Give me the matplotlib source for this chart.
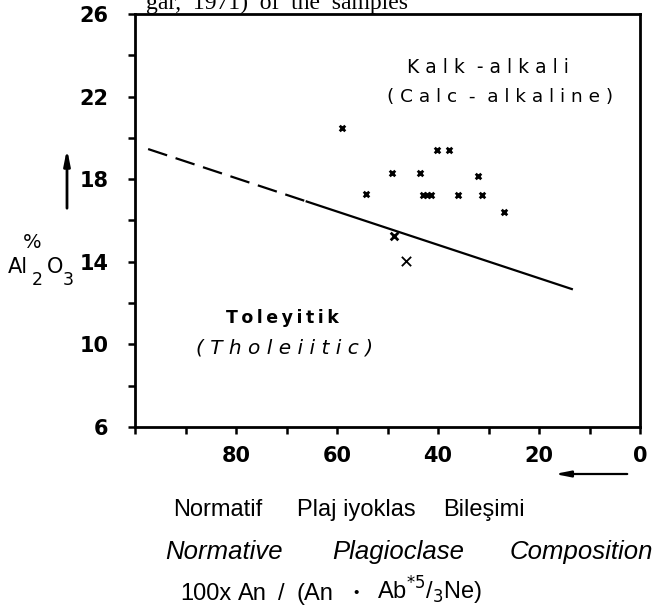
"""
Al2O3 - normatif plajiyoklas bileşimi diyagramı (Irvine & Baragar, 1971)
"""

import matplotlib.pyplot as plt
from matplotlib.ticker import MultipleLocator

# Örnekler: normatif plajiyoklas (An) ve % Al2O3
an_small = [59.1, 40.1, 37.8, 49.2, 43.6, 32.1, 54.3, 43.0, 42.2, 41.4, 36.0, 31.3, 26.9]
al_small = [20.5, 19.4, 19.4, 18.3, 18.3, 18.15, 17.3, 17.25, 17.25, 17.25, 17.25, 17.25, 16.4]
an_mid = [48.7]
al_mid = [15.25]
an_big = [46.4]
al_big = [14.05]

# Ayırım çizgisi (kesikli + düz kısım)
line_dash_x = [97.4, 66.0]
line_dash_y = [19.46, 16.92]
line_solid_x = [66.0, 13.5]
line_solid_y = [16.92, 12.68]

x_ticks = [80, 60, 40, 20, 0]
y_ticks = [6, 10, 14, 18, 22, 26]

fig = plt.figure(figsize=(6.54, 6.12), dpi=100)
ax = fig.add_axes([135 / 654, 1 - 427 / 612, 505 / 654, 413 / 612])

ax.plot(line_dash_x, line_dash_y, color='black', lw=1.6, dashes=(9, 4))
ax.plot(line_solid_x, line_solid_y, color='black', lw=1.6)

ax.scatter(an_small, al_small, marker='x', s=16, color='black', linewidths=2)
ax.scatter(an_mid, al_mid, marker='x', s=30, color='black', linewidths=2)
ax.scatter(an_big, al_big, marker='x', s=45, color='black', linewidths=1.3)

ax.set_xlim(100, 0)
ax.set_ylim(6, 26)
ax.set_xticks(x_ticks)
ax.set_yticks(y_ticks)
ax.xaxis.set_minor_locator(MultipleLocator(10))
ax.yaxis.set_minor_locator(MultipleLocator(2))
ax.tick_params(which='both', direction='out', length=5, width=1.8, colors='black')
ax.tick_params(axis='y', labelsize=15, pad=14)
ax.tick_params(axis='x', labelsize=15, pad=9)
for lab in ax.get_xticklabels() + ax.get_yticklabels():
    lab.set_fontweight('bold')
for sp in ax.spines.values():
    sp.set_linewidth(2)

# Bölge isimleri
ax.text(0.699, 0.87, 'K a l k  - a l k a l i', transform=ax.transAxes,
        ha='center', va='center', fontsize=13.5)
ax.text(0.722, 0.80, '( C a l c  -  a l k a l i n e )', transform=ax.transAxes,
        ha='center', va='center', fontsize=13.3)
ax.text(0.292, 0.264, '\u2009'.join('Toleyitik'), transform=ax.transAxes,
        ha='center', va='center', fontsize=12.5, fontweight='bold')
ax.text(0.297, 0.191, '( T h o l e i i t i c )', transform=ax.transAxes,
        ha='center', va='center', fontsize=14.5, style='italic')

# Y ekseni etiketi ve ok
fig.text(32 / 654, 1 - 243 / 612, '%', ha='center', va='center', fontsize=14)
fig.text(18 / 654, 1 - 267 / 612, 'Al', ha='center', va='center', fontsize=15)
fig.text(37 / 654, 1 - 280 / 612, '2', ha='center', va='center', fontsize=12.5)
fig.text(55 / 654, 1 - 267 / 612, 'O', ha='center', va='center', fontsize=15)
fig.text(68 / 654, 1 - 280 / 612, '3', ha='center', va='center', fontsize=12.5)
ax.annotate('', xy=(67 / 654, 1 - 146 / 612), xytext=(67 / 654, 1 - 211 / 612),
            xycoords='figure fraction', annotation_clip=False,
            arrowprops=dict(arrowstyle='-|>,head_length=0.9,head_width=0.18',
                            color='black', lw=2))
ax.annotate('', xy=(552 / 654, 1 - 474 / 612), xytext=(630 / 654, 1 - 474 / 612),
            xycoords='figure fraction', annotation_clip=False,
            arrowprops=dict(arrowstyle='-|>,head_length=0.9,head_width=0.18',
                            color='black', lw=1.6))

# Üstte kesilmiş başlık satırı
fig.text(277 / 654, 1 - 9 / 612, 'gar,  1971)  of  the  samples', ha='center',
         va='baseline', fontsize=17, family='Liberation Serif')

# X ekseni açıklamaları
sans = 'Liberation Sans'
for xp, word in [(173, 'Normatif'), (297, 'Plaj iyoklas'), (443, 'Bileşimi')]:
    fig.text(xp / 654, 1 - 516 / 612, word, ha='left', va='baseline',
             fontsize=17, family=sans)
for xp, word in [(165, 'Normative'), (332, 'Plagioclase'), (510, 'Composition')]:
    fig.text(xp / 654, 1 - 559 / 612, word, ha='left', va='baseline',
             fontsize=18.5, family=sans, style='italic')
for xp, word in [(180, '100x'), (238, 'An'), (278, '/'), (297, '(An'),
                 (377, r'Ab$^{*5}$/$_{3}$Ne)')]:
    fig.text(xp / 654, 1 - 600 / 612, word, ha='left', va='baseline',
             fontsize=17, family=sans)
fig.text(356 / 654, 1 - 593 / 612, '\u2022', ha='center', va='center',
         fontsize=11, family=sans)

fig.savefig('out.png', dpi=100)
